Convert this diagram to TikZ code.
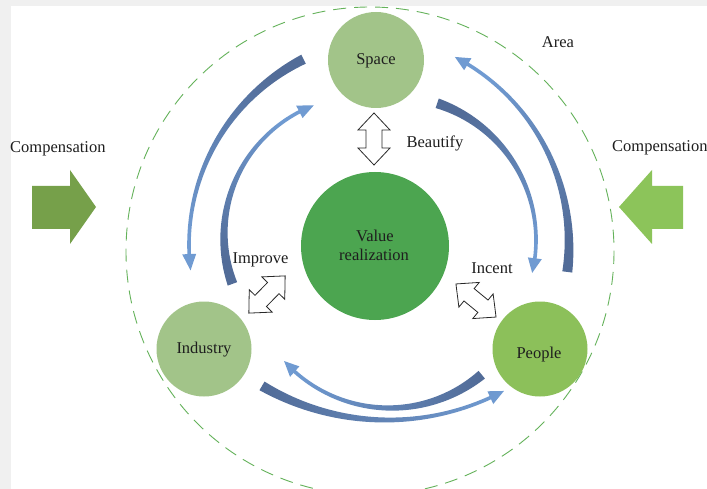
\documentclass[tikz,border=0pt]{standalone}
\usepackage{fontspec}
\setmainfont{Liberation Serif}

\definecolor{framegray}{RGB}{240,240,240}
\definecolor{ringgreen}{RGB}{100,178,90}
\definecolor{sagegreen}{RGB}{162,196,137}
\definecolor{valuegreen}{RGB}{76,165,80}
\definecolor{peoplegreen}{RGB}{140,192,90}
\definecolor{compdark}{RGB}{118,160,74}
\definecolor{complight}{RGB}{140,196,90}
\definecolor{tailblue}{RGB}{82,108,152}
\definecolor{headblue}{RGB}{112,155,210}
\definecolor{inkcol}{RGB}{30,30,30}
\definecolor{outline}{RGB}{40,40,40}

% widths of the tapered curved bands
\newcommand\bbwt{10}   % width at the tail
\newcommand\bbwh{3.6}  % width just behind the head
\newcommand\bbhw{7}    % half width of the head
% half width of a band at running angle \t between tail #1 and head base #2
\newcommand\bbhalf[2]{(0.5*(\bbwh+(\bbwt-\bbwh)*(1-(\t-(#1))/((#2)-(#1)))*(1-(\t-(#1))/((#2)-(#1)))))}
% tapered curved arrow on a circle: centre (#1,#2), radius #3,
% tail angle #4, head base angle #5, tip angle #6
\newcommand\bentband[6]{%
  \pgfmathsetmacro\bbang{atan2(sin(#6)-sin(#4),cos(#4)-cos(#6))-90}%
  \shade[top color=tailblue, bottom color=headblue, shading angle=\bbang]
    plot[domain=#4:#5, samples=60, variable=\t]
      ({#1+(#3+\bbhalf{#4}{#5})*cos(\t)},{#2+(#3+\bbhalf{#4}{#5})*sin(\t)})
    -- ({#1+(#3+\bbhw)*cos(#5)},{#2+(#3+\bbhw)*sin(#5)})
    -- ({#1+#3*cos(#6)},{#2+#3*sin(#6)})
    -- ({#1+(#3-\bbhw)*cos(#5)},{#2+(#3-\bbhw)*sin(#5)})
    -- plot[domain=#5:#4, samples=60, variable=\t]
      ({#1+(#3-\bbhalf{#4}{#5})*cos(\t)},{#2+(#3-\bbhalf{#4}{#5})*sin(\t)})
    -- cycle;}

\tikzset{
  disc/.style={circle, draw=none, inner sep=0pt},
  lbl/.style={font=\fontsize{16.5}{20}\selectfont, text=inkcol, inner sep=0pt, anchor=base},
  twoway/.pic={
    \draw[draw=outline, fill=white, line width=0.8pt, line join=miter]
      (-26,0) -- (-9,-16) -- (-9,-8) -- (9,-8) -- (9,-16) -- (26,0)
      -- (9,16) -- (9,8) -- (-9,8) -- (-9,16) -- cycle;
  }
}

\begin{document}
\begin{tikzpicture}[x=1pt,y=-1pt]
  \useasboundingbox (0,0) rectangle (707,489);
  % frame and sheet
  \fill[framegray] (0,0) rectangle (707,489);
  \fill[white] (11,6) rectangle (707,489);

  % area boundary
  \draw[ringgreen, line width=0.9pt, dash pattern=on 13pt off 8pt] (370,251) circle[radius=244];

  % the four circles
  \node[disc, fill=sagegreen, minimum size=96pt] (space) at (376,60) {};
  \node[disc, fill=valuegreen, minimum size=148pt] (value) at (375,246) {};
  \node[disc, fill=sagegreen, minimum size=95pt] (industry) at (204,349) {};
  \node[disc, fill=peoplegreen, minimum size=95pt] (people) at (540,349) {};

  \node[lbl] (space-t) at (376,65) {Space};
  \node[lbl] (value-t1) at (375,242) {Value};
  \node[lbl] (value-t2) at (374,261) {realization};
  \node[lbl] (industry-t) at (204,353) {Industry};
  \node[lbl] (people-t) at (539,358) {People};

  % curved flows between the outer circles
  \bentband{397}{245}{208}{243.3}{177.5}{173}
  \bentband{364}{236}{140}{160}{242.5}{249}
  \bentband{357}{245}{212}{7.3}{-58.5}{-62.5}
  \bentband{392}{240}{144}{-71.7}{7.3}{13.2}
  \bentband{390}{265}{143}{50.1}{131.8}{137.8}
  \bentband{387.5}{172}{248}{120.4}{65.5}{62}

  % two-way links with the centre
  \pic[rotate=90] (beautify) at (374,139) {twoway};
  \pic[rotate=45.7] (improve) at (267,294.5) {twoway};
  \pic[rotate=-39.5] (incent) at (476,300.5) {twoway};

  \node[lbl] (beautify-t) at (435,148) {Beautify};
  \node[lbl] (improve-t) at (260.5,263) {Improve};
  \node[lbl] (incent-t) at (492,273) {Incent};
  \node[lbl] (area-t) at (558,48) {Area};

  % compensation inflows
  \fill[compdark] (32,186) -- (70,186) -- (70,170) -- (96,207) -- (70,244)
    -- (70,229) -- (32,229) -- cycle;
  \fill[complight] (683,186) -- (652,186) -- (652,170) -- (619,207) -- (652,244)
    -- (652,229) -- (683,229) -- cycle;
  \node[lbl, anchor=base west] (comp-left) at (10,153) {Compensation};
  \node[lbl, anchor=base west] (comp-right) at (612,152) {Compensation};
\end{tikzpicture}
\end{document}
